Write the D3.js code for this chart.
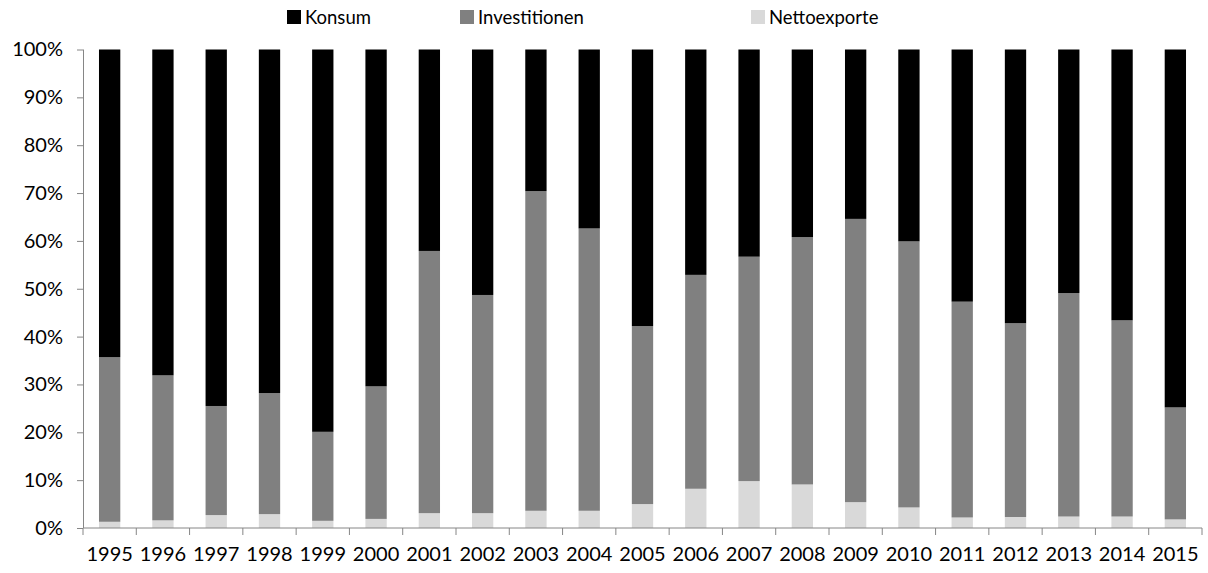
<!DOCTYPE html>
<html>
<head>
<meta charset="utf-8">
<script src="https://cdn.jsdelivr.net/npm/d3@7"></script>
<style>
  html, body { margin: 0; padding: 0; background: #fff; }
  svg { display: block; }
  text { font-family: Lato, "Open Sans", sans-serif; fill: #000; }
</style>
</head>
<body>
<svg id="chart" width="1208" height="573"></svg>
<script>
// Anteile am BIP-Wachstum (in %), je Jahr
const years = ["1995","1996","1997","1998","1999","2000","2001","2002","2003","2004","2005",
               "2006","2007","2008","2009","2010","2011","2012","2013","2014","2015"];
const nettoexporte = [1.3, 1.6, 2.7, 2.9, 1.5, 1.9, 3.1, 3.1, 3.6, 3.6, 5.0,
                      8.2, 9.8, 9.1, 5.4, 4.3, 2.2, 2.3, 2.4, 2.4, 1.8];
const investitionen = [34.4, 30.3, 22.8, 25.3, 18.6, 27.7, 54.8, 45.6, 66.8, 59.0, 37.2,
                       44.7, 46.9, 51.7, 59.2, 55.6, 45.1, 40.5, 46.7, 41.0, 23.4];
const konsum = years.map((_, i) => +(100 - nettoexporte[i] - investitionen[i]).toFixed(1));
const yTicks = [0, 10, 20, 30, 40, 50, 60, 70, 80, 90, 100];

const seriesNames = ["Nettoexporte", "Investitionen", "Konsum"];
const colors = { Konsum: "#000000", Investitionen: "#808080", Nettoexporte: "#d9d9d9" };
const legendOrder = ["Konsum", "Investitionen", "Nettoexporte"];

const rows = years.map((yr, i) => ({
  year: yr, Nettoexporte: nettoexporte[i], Investitionen: investitionen[i], Konsum: konsum[i]
}));

const svg = d3.select("#chart");
const plotL = 83, plotR = 1202, plotT = 49.5, plotB = 528;

const x = d3.scaleBand().domain(years).range([plotL, plotR]).paddingInner(0.6).paddingOuter(0.3);
const xb = d3.scaleBand().domain(years).range([plotL, plotR]);
const y = d3.scaleLinear().domain([0, 100]).range([plotB, plotT]);

const layers = d3.stack().keys(seriesNames).offset(d3.stackOffsetExpand)(rows);

// bars
svg.append("g").selectAll("g").data(layers).join("g")
  .attr("fill", d => colors[d.key])
  .selectAll("rect").data(d => d).join("rect")
  .attr("x", d => x(d.data.year))
  .attr("width", x.bandwidth())
  .attr("y", d => y(d[1] * 100))
  .attr("height", d => y(d[0] * 100) - y(d[1] * 100));

const axisColor = "#868686";

// y axis
const yAxis = svg.append("g").attr("transform", `translate(${plotL},0)`)
  .call(d3.axisLeft(y).tickValues(yTicks).tickFormat(d => d + "%").tickSize(6).tickPadding(14));
yAxis.select(".domain").attr("stroke", axisColor).attr("d", `M0.5,${plotB}V${plotT}`);
yAxis.selectAll(".tick line").attr("stroke", axisColor);
yAxis.selectAll(".tick text").attr("font-size", 20).attr("font-family", "Lato").attr("fill", "#000");

// x axis: ticks on category boundaries
const xAxis = svg.append("g").attr("transform", `translate(0,${plotB})`);
xAxis.append("line").attr("x1", plotL).attr("x2", plotR).attr("stroke", axisColor);
const bounds = years.map(d => xb(d)).concat([plotR]);
xAxis.selectAll("line.tk").data(bounds).join("line").attr("class", "tk")
  .attr("x1", d => d).attr("x2", d => d).attr("y1", 0).attr("y2", 7).attr("stroke", axisColor);
xAxis.selectAll("text").data(years).join("text")
  .attr("x", d => xb(d) + xb.bandwidth() / 2)
  .attr("y", 33)
  .attr("text-anchor", "middle")
  .attr("font-size", 20)
  .text(d => d);

// legend
const legendX = { Konsum: 287, Investitionen: 460, Nettoexporte: 751 };
const legend = svg.append("g");
legendOrder.forEach(k => {
  legend.append("rect").attr("x", legendX[k]).attr("y", 10).attr("width", 14).attr("height", 14)
    .attr("fill", colors[k]);
  legend.append("text").attr("x", legendX[k] + 18).attr("y", 24).attr("font-size", 18.5).text(k);
});
</script>
</body>
</html>
